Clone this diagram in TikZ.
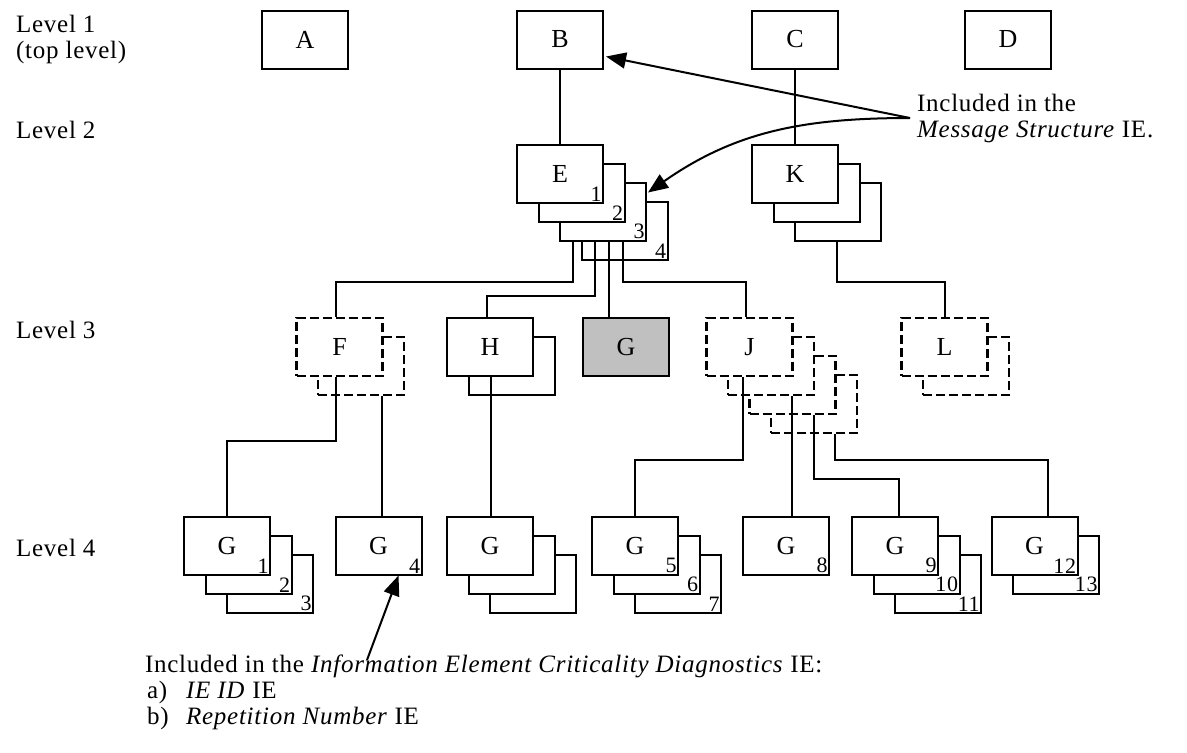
\documentclass[tikz,border=0pt]{standalone}
\usepackage{fontspec}
\setmainfont{Liberation Serif}[LetterSpace=3]
\usetikzlibrary{arrows.meta,calc}
\definecolor{shadegray}{RGB}{192,192,192}

\begin{document}
\begin{tikzpicture}[x=0.5pt,y=-0.5pt,font=\fontsize{12.5}{13}\selectfont]
\tikzstyle{boxstyle}=[draw, line width=1pt, fill=white, minimum width=43pt, minimum height=29pt, inner sep=0pt, font=\fontsize{13}{13}\selectfont]
\tikzstyle{dashstyle}=[boxstyle, line width=1.4pt, dash pattern=on 4.5pt off 2pt]
\tikzstyle{numstyle}=[anchor=south east, inner sep=1pt, font=\fontsize{11}{11}\selectfont]
\tikzstyle{linkstyle}=[line width=1pt]
\tikzstyle{arrowstyle}=[line width=1pt, -{Triangle[length=10pt,width=8pt]}]
\useasboundingbox (0,0) rectangle (1187,752);
    % level texts
    \node[anchor=north west, align=left] (lv1) at (9,8) {Level 1\\(top level)};
    \node[anchor=west] (lv2) at (9,130) {Level 2};
    \node[anchor=west] (lv3) at (9,330) {Level 3};
    \node[anchor=west] (lv4) at (9,548) {Level 4};
    % level 1
    \node[boxstyle] (A) at (305,39.5) {A};
    \node[boxstyle] (B) at (560,39.5) {B};
    \node[boxstyle] (C) at (795,39.5) {C};
    \node[boxstyle] (D) at (1008,39.5) {D};
    % level 2
    \node[boxstyle] (E4) at (624.5,230.5) {};
    \node[boxstyle] (E3) at (603,211.5) {};
    \node[boxstyle] (E2) at (581.5,192.5) {};
    \node[boxstyle] (E1) at (560,173.5) {E};
    \node[boxstyle] (K3) at (838,211.5) {};
    \node[boxstyle] (K2) at (816.5,192.5) {};
    \node[boxstyle] (K1) at (795,173.5) {K};
    % level 3
    \node[dashstyle] (F2) at (361,366) {};
    \node[dashstyle] (F1) at (339.5,347) {F\hspace{11pt}};
    \node[boxstyle] (H2) at (511.5,366) {};
    \node[boxstyle] (H1) at (490,347) {H\hspace{9pt}};
    \node[boxstyle, fill=shadegray] (G) at (626,347) {G};
    \node[dashstyle] (J4) at (814,404) {};
    \node[dashstyle] (J3) at (792.5,385) {};
    \node[dashstyle] (J2) at (771,366) {};
    \node[dashstyle] (J1) at (749.5,347) {J\hspace{14pt}};
    \node[dashstyle] (L2) at (966,366) {};
    \node[dashstyle] (L1) at (944.5,347) {L\hspace{11pt}};
    % level 4
    \node[boxstyle] (G3) at (270,583.5) {};
    \node[boxstyle] (G2) at (248.5,564.5) {};
    \node[boxstyle] (G1) at (227,545.5) {G};
    \node[boxstyle] (G4) at (378.5,545.5) {G};
    \node[boxstyle] (Gh3) at (533,583.5) {};
    \node[boxstyle] (Gh2) at (511.5,564.5) {};
    \node[boxstyle] (Gh1) at (490,545.5) {G};
    \node[boxstyle] (G7) at (678,583.5) {};
    \node[boxstyle] (G6) at (656.5,564.5) {};
    \node[boxstyle] (G5) at (635,545.5) {G};
    \node[boxstyle] (G8) at (786,545.5) {G};
    \node[boxstyle] (G11) at (938,583.5) {};
    \node[boxstyle] (G10) at (916.5,564.5) {};
    \node[boxstyle] (G9) at (895,545.5) {G};
    \node[boxstyle] (G13) at (1056,564.5) {};
    \node[boxstyle] (G12) at (1034.5,545.5) {G};
    % repetition numbers
    \node[numstyle] (nE1) at (E1.south east) {1};
    \node[numstyle] (nE2) at (E2.south east) {2};
    \node[numstyle] (nE3) at (E3.south east) {3};
    \node[numstyle] (nE4) at (E4.south east) {4};
    \node[numstyle] (nG1) at (G1.south east) {1};
    \node[numstyle] (nG2) at (G2.south east) {2};
    \node[numstyle] (nG3) at (G3.south east) {3};
    \node[numstyle] (nG4) at (G4.south east) {4};
    \node[numstyle] (nG5) at (G5.south east) {5};
    \node[numstyle] (nG6) at (G6.south east) {6};
    \node[numstyle] (nG7) at (G7.south east) {7};
    \node[numstyle] (nG8) at (G8.south east) {8};
    \node[numstyle] (nG9) at (G9.south east) {9};
    \node[numstyle] (nG10) at (G10.south east) {10};
    \node[numstyle] (nG11) at (G11.south east) {11};
    \node[numstyle] (nG12) at (G12.south east) {12};
    \node[numstyle] (nG13) at (G13.south east) {13};
    % connections
    \draw[linkstyle] (B) -- (E1);
    \draw[linkstyle] (C) -- (K1);
    \draw[linkstyle] ($(E3.south west)+(14,0)$) |- ($(F1.north)+(-4,-35)$) -- ($(F1.north)+(-4,0)$);
    \draw[linkstyle] ($(E3.south west)+(36,0)$) |- ($(H1.north)+(-3,-21)$) -- ($(H1.north)+(-3,0)$);
    \draw[linkstyle] ($(E3.south west)+(50,0)$) coordinate (eg) -- (eg |- G.north);
    \draw[linkstyle] ($(E3.south west)+(64,0)$) |- ($(J1.north)+(-4,-35)$) -- ($(J1.north)+(-4,0)$);
    \draw[linkstyle] ($(K3.south)+(-1,0)$) |- ($(L1.north)+(0,-35)$) -- (L1.north);
    \draw[linkstyle] ($(F1.south)+(-4,0)$) |- ($(G1.north)+(0,-75)$) -- (G1.north);
    \draw[linkstyle] ($(F2.south)+(21,0)$) coordinate (fg) -- (fg |- G4.north);
    \draw[linkstyle] ($(H1.south)+(1,0)$) coordinate (hg) -- (hg |- Gh1.north);
    \draw[linkstyle] ($(J1.south)+(-6.5,0)$) |- ($(G5.north)+(0,-56)$) -- (G5.north);
    \draw[linkstyle] ($(J2.south)+(21,0)$) coordinate (jg) -- (jg |- G8.north);
    \draw[linkstyle] ($(J3.south)+(21.5,0)$) |- ($(G9.north)+(4,-37)$) -- ($(G9.north)+(4,0)$);
    \draw[linkstyle] ($(J4.south)+(21,0)$) |- ($(G12.north)+(13.5,-56)$) -- ($(G12.north)+(13.5,0)$);
    % notes
    \node[anchor=west, align=left] (msgtext) at (910,118) {Included in the\\\emph{Message Structure} IE.};
    \draw[arrowstyle] (msgtext.west) -- ($(B.east)+(2,17)$);
    \draw[arrowstyle] (msgtext.west) to[out=180,in=35] ($(E3.north east)+(1,11)$);
    \node[anchor=north west, align=left] (ietext) at (138,648) {Included in the \emph{Information Element Criticality Diagnostics} IE:\\
      \hspace*{1pt}\makebox[19.5pt][l]{a)}\emph{IE ID} IE\\
      \hspace*{1pt}\makebox[19.5pt][l]{b)}\emph{Repetition Number} IE};
    \coordinate (ietail) at (367,660);
    \draw[arrowstyle] (ietail) -- ($(G4.south)+(20,0)$);
\end{tikzpicture}
\end{document}
